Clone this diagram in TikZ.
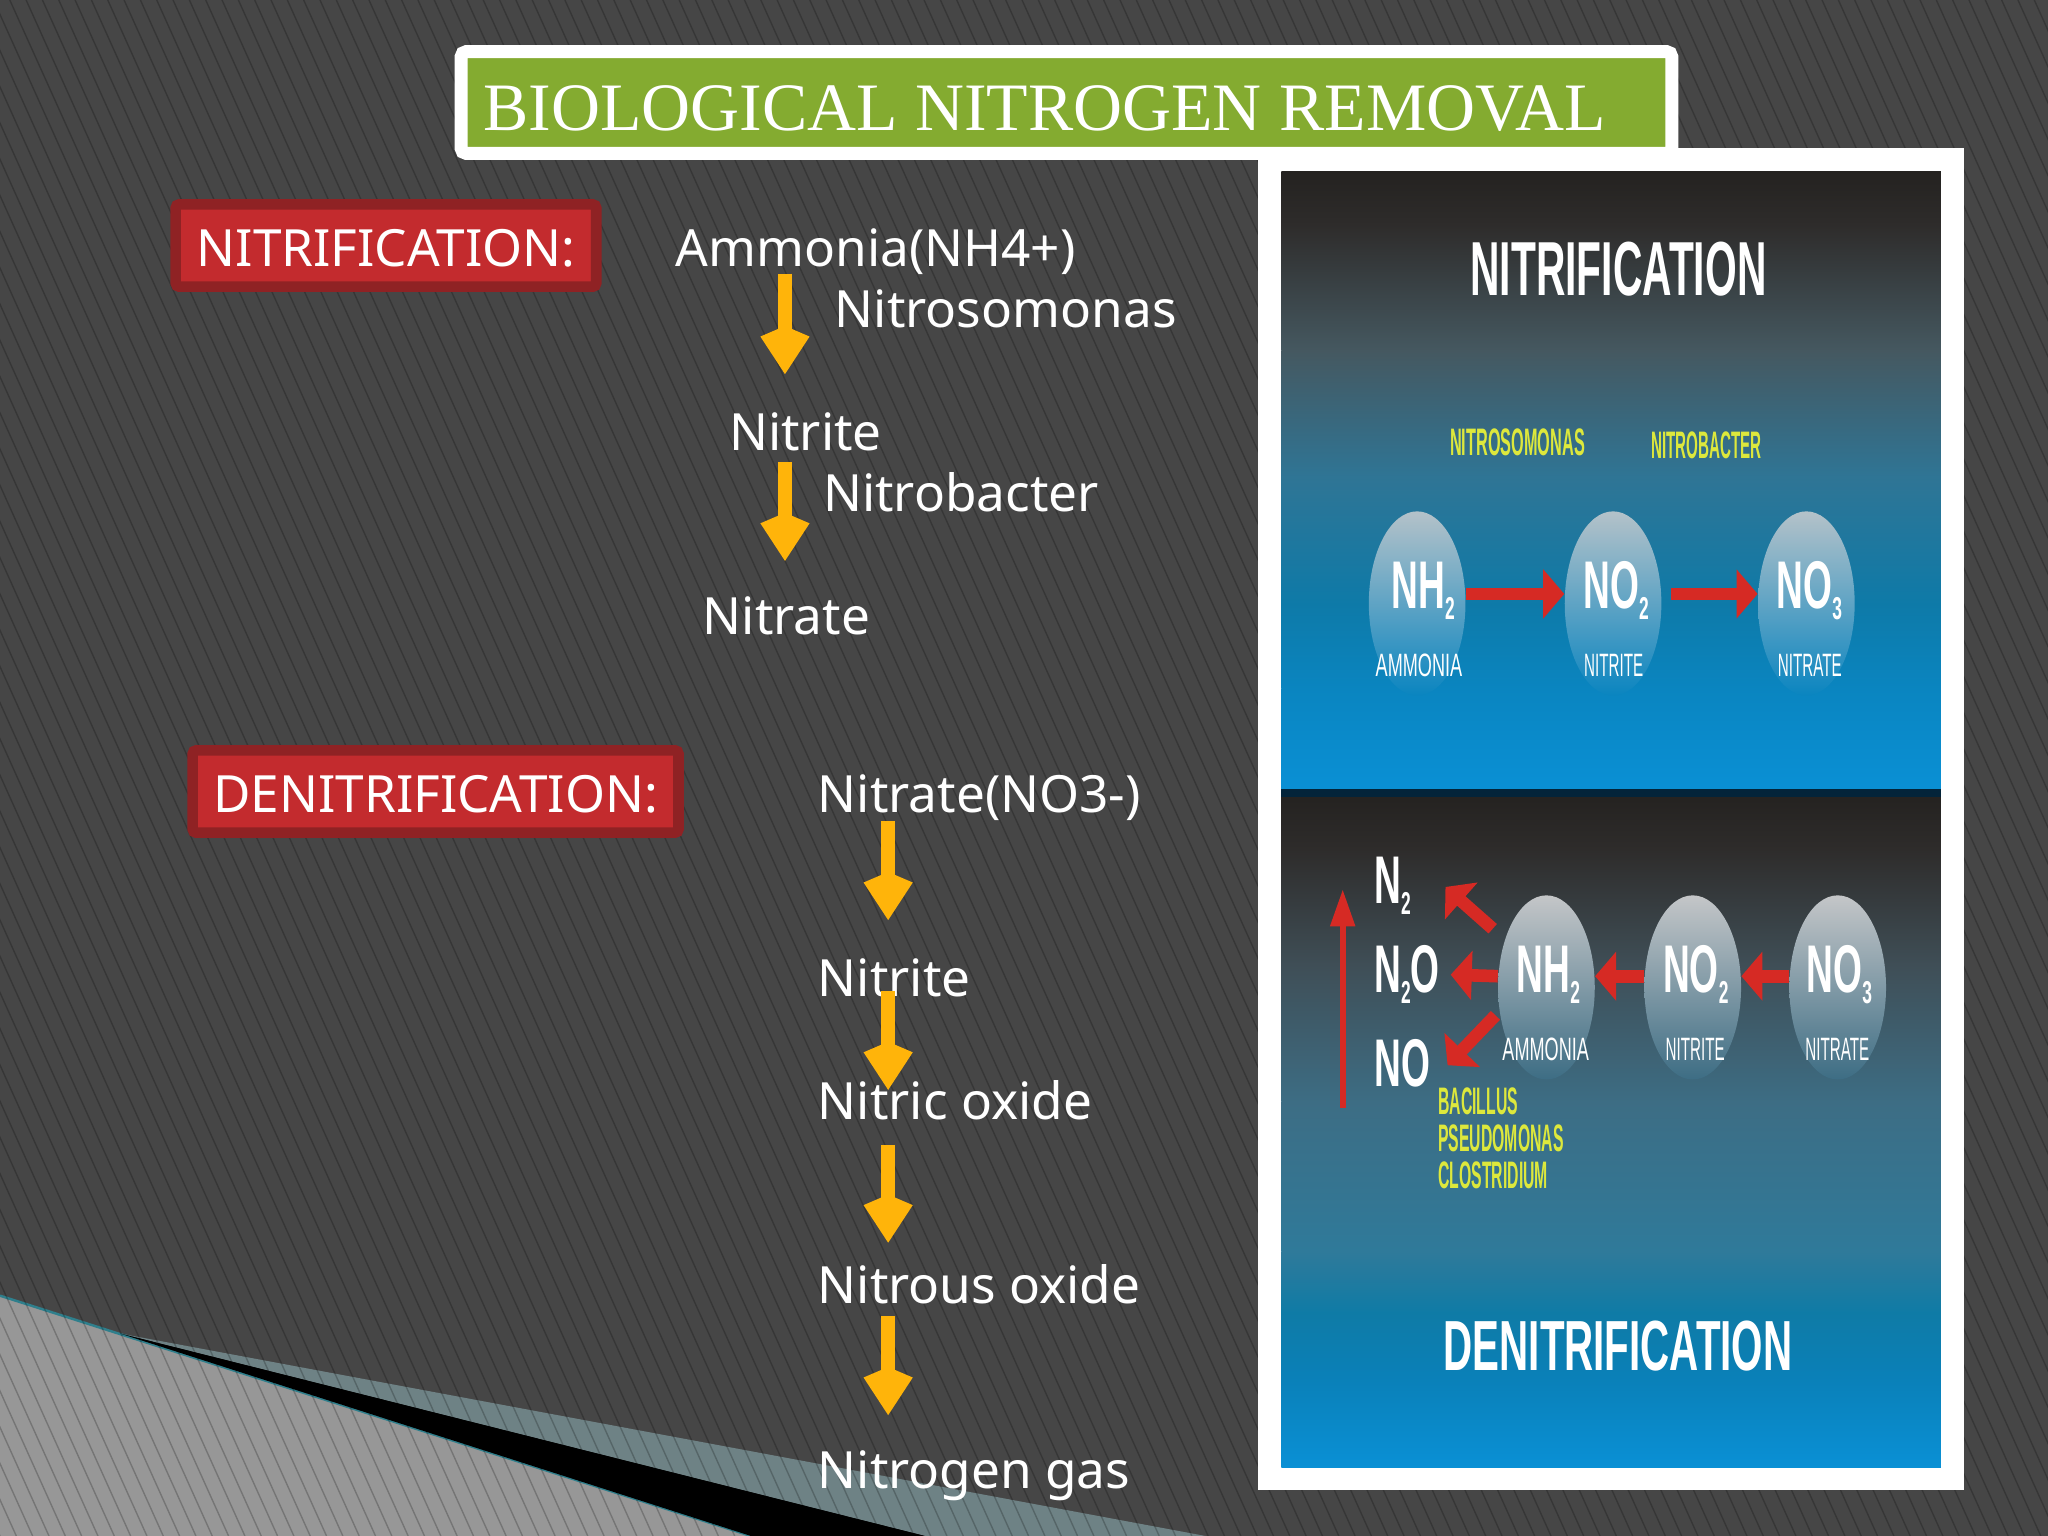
\documentclass[tikz,border=0pt]{standalone}
\usepackage{fontspec}
\setmainfont{Noto Sans}
\newfontfamily\titlefont{Liberation Serif}
\newfontfamily\panelfont{Liberation Sans}
\usetikzlibrary{arrows.meta,shapes.geometric,shadows}

\definecolor{slidebg}{HTML}{464646}
\definecolor{lightwedge}{HTML}{979797}
\definecolor{tealwedge}{HTML}{6E8285}
\definecolor{tealedge}{HTML}{2F7F8C}
\definecolor{titlegreen}{HTML}{84AB30}
\definecolor{tagred}{HTML}{C32B2E}
\definecolor{tagdark}{HTML}{8F2224}
\definecolor{arrowgold}{HTML}{FFB40A}
\definecolor{panelred}{HTML}{D62A24}
\definecolor{panelyellow}{HTML}{DDE83C}
\definecolor{panelline}{HTML}{03243A}
\definecolor{blobtopA}{HTML}{B4C2C9}
\definecolor{blobtopB}{HTML}{C4C6C8}
\definecolor{shA}{HTML}{242220}
\definecolor{shB}{HTML}{2E2C2B}
\definecolor{shC}{HTML}{455860}
\definecolor{shD}{HTML}{2F7595}
\definecolor{shE}{HTML}{0E7AA8}
\definecolor{shF}{HTML}{0A85C0}
\definecolor{shG}{HTML}{0A90D5}
\definecolor{shH}{HTML}{3F4E56}
\definecolor{shI}{HTML}{3D6D84}
\definecolor{shJ}{HTML}{2F7A9A}
\definecolor{shK}{HTML}{0F7BA6}
\definecolor{shL}{HTML}{0A80B8}

\newcommand{\un}{0.3716pt}
\newcommand{\chemsub}[1]{\raisebox{-3pt}{\fontsize{9}{9}\selectfont #1}}

\tikzset{
  slidetext/.style={anchor=base west,inner sep=0pt,xshift=-0.5pt,text=white,text height=27*\un,text depth=9*\un,font=\fontsize{14.6}{17}\selectfont},
  tagbox/.style={fill=tagred,draw=tagdark,line width=3pt,rounded corners=1pt,text=white,inner sep=0pt,text height=32*\un,text depth=0pt,font=\fontsize{14.6}{17}\selectfont},
  goldarrow/.style={draw=arrowgold,line width=4.1pt,-{Kite[length=13.7pt,width=14pt,inset=3pt]}},
  redarrow/.style={draw=panelred,line width=3.6pt,-{Triangle[length=6pt,width=13.7pt]}},
  blobA/.style={shape=ellipse,inner sep=0pt,minimum width=74*\un,minimum height=141*\un,top color=#1},
  formula/.style={anchor=base west,inner sep=0pt,text=white,xscale=.55,font=\panelfont\bfseries\fontsize{19.2}{22}\selectfont},
  species/.style={anchor=base west,inner sep=0pt,text=white,font=\panelfont\fontsize{9.2}{11}\selectfont},
  microbe/.style={anchor=base west,inner sep=0pt,text=panelyellow,font=\panelfont\bfseries\fontsize{10.9}{10.6}\selectfont},
  heading/.style={anchor=base west,inner sep=0pt,text=white,font=\panelfont\bfseries\fontsize{#1}{24}\selectfont}
}

\begin{document}
\begin{tikzpicture}[x=0.013061cm,y=-0.013061cm]
  \useasboundingbox (0,0) rectangle (1568,1176);
  \fill[slidebg] (0,0) rectangle (1568,1176);

  % corner wedges
  \fill[tealwedge] (92,1021) -- (923,1176) -- (575,1176) -- cycle;
  \fill[black] (92,1021) -- (708,1176) -- (575,1176) -- cycle;
  \fill[lightwedge] (0,992) -- (575,1176) -- (0,1176) -- cycle;
  \draw[tealedge,line width=0.7pt] (0,992) -- (575,1176);

  % stripes
  \begin{scope}
    \clip (0,0) rectangle (1568,1176);
    \foreach \x in {-530,-517.5,...,1568}
      \draw[black,opacity=.22,line width=0.4pt] (\x,0) -- (\x+530,1176);
  \end{scope}
  \fill[black] (92,1021) -- (708,1176) -- (575,1176) -- cycle;

  % title
  \node[fill=titlegreen,draw=white,line width=3.7pt,rounded corners=1.5pt,drop shadow={opacity=.35,shadow xshift=0pt,shadow yshift=-1.5pt},
    minimum width=927*\un,minimum height=78*\un,inner xsep=17*\un,inner ysep=0pt,text width=893*\un,align=left,
    text=white,text height=43*\un,text depth=0pt,font=\titlefont\fontsize{19.3}{22}\selectfont] (title) at (816.5,78.5) {\spaceskip=5pt BIOLOGICAL NITROGEN REMOVAL};

  % tags
  \node[tagbox,minimum width=322*\un,minimum height=63*\un] (nitrif) at (295.5,188) {NITRIFICATION:};
  \node[tagbox,minimum width=372*\un,minimum height=63*\un] (denitrif) at (333.5,606) {DENITRIFICATION:};

  % left column
  \node[slidetext] (ammonia) at (518,204) {Ammonia(NH4+)};
  \node[slidetext] (nitrosom) at (640,251) {Nitrosomonas};
  \node[slidetext] (nitriteA) at (559,345) {Nitrite};
  \node[slidetext] (nitrobac) at (631,392) {Nitrobacter};
  \node[slidetext] (nitrateA) at (539,486) {Nitrate};
  \node[slidetext] (nitrateB) at (627,622) {Nitrate(NO3-)};
  \node[slidetext] (nitriteB) at (627,763) {Nitrite};
  \node[slidetext] (nitric) at (627,857) {Nitric oxide};
  \node[slidetext] (nitrous) at (627,998) {Nitrous oxide};
  \node[slidetext] (nitrogen) at (627,1140) {Nitrogen gas};

  \coordinate (colA) at (601,0);
  \coordinate (colB) at (680,0);
  \foreach \a/\b/\col/\s/\e in {ammonia/nitriteA/colA/-4/31,nitriteA/nitrateA/colA/-1/29,
      nitrateB/nitriteB/colB/-3/31,nitriteB/nitric/colB/-14/-5,nitric/nitrous/colB/10/19,nitrous/nitrogen/colB/0/29}
    \draw[goldarrow,shorten <=\s*\un,shorten >=\e*\un] (\col|-\a.south) -- (\col|-\b.north);

  % picture panel
  \fill[white] (963,113) rectangle (1504,1141);
  \foreach \ya/\ca/\yb/\cb in {131/shA/172/shB,172/shB/268/shC,268/shC/365/shD,365/shD/462/shE,462/shE/527/shF,527/shF/605/shG,
      608/shA/650/shB,650/shB/738/shH,738/shH/843/shI,843/shI/958/shJ,958/shJ/1005/shK,1005/shK/1054/shL,1054/shL/1123/shG}
    \shade[top color=\ca,bottom color=\cb] (981,\ya) rectangle (1486,\yb+0.5);
  \fill[panelline] (981,604) rectangle (1486,610);

  % upper row
  \node[blobA=blobtopA,bottom color=shF] (nhA) at (1085,462) {};
  \node[blobA=blobtopA,bottom color=shF] (noA) at (1235,462) {};
  \node[blobA=blobtopA,bottom color=shF] (noC) at (1383,462) {};
  \draw[redarrow] (nhA.11) -- (noA.169);
  \draw[redarrow,shorten <=2.5pt] (noA.11) -- (noC.169);
  \node[heading=21.8,xscale=.532] (nitrifhead) at (1125.6,226.6) {NITRIFICATION};
  \node[microbe,xscale=.425] (somonas) at (1110,349) {NITROSOMONAS};
  \node[microbe,xscale=.396] (bacter) at (1264,351) {NITROBACTER};
  \node[formula] (nhAtext) at (1065,466) {NH\chemsub{2}};
  \node[formula] (noAtext) at (1212,466) {NO\chemsub{2}};
  \node[formula] (noCtext) at (1360,466) {NO\chemsub{3}};
  \node[species,xscale=.56] (ammoA) at (1053,518) {AMMONIA};
  \node[species,xscale=.47] (nitA) at (1212.6,518) {NITRITE};
  \node[species,xscale=.47] (natA) at (1361,518) {NITRATE};

  % lower row
  \node[blobA=blobtopB,bottom color=shI] (nhB) at (1184,756) {};
  \node[blobA=blobtopB,bottom color=shI] (noB) at (1296,756) {};
  \node[blobA=blobtopB,bottom color=shI] (noD) at (1407,756) {};
  \node[formula] (ntwo) at (1052,692) {N\chemsub{2}};
  \node[formula] (ntwoo) at (1052,760) {N\chemsub{2}O};
  \node[formula] (nomono) at (1052,832) {NO};
  \draw[redarrow] (noD.167) -- (noB.13);
  \draw[redarrow] (noB.167) -- (nhB.13);
  \draw[redarrow,shorten >=3pt] (nhB.167) -- (ntwoo.east);
  \draw[redarrow,shorten <=4.5pt,shorten >=13pt] (nhB.131) -- (ntwo.north east);
  \draw[redarrow,shorten <=1.5pt,shorten >=9pt] (nhB.207) -- (nomono.-30);
  \coordinate (riseA) at (1028,848);
  \coordinate (riseB) at (1028,681);
  \draw[draw=panelred,line width=1.6pt,-{Triangle[length=10.5pt,width=6.8pt]}] (riseA) -- (riseB);
  \node[formula] (nhBtext) at (1161,760) {NH\chemsub{2}};
  \node[formula] (noBtext) at (1273,760) {NO\chemsub{2}};
  \node[formula] (noDtext) at (1383,760) {NO\chemsub{3}};
  \node[species,xscale=.56] (ammoB) at (1150,812) {AMMONIA};
  \node[species,xscale=.47] (nitB) at (1275,812) {NITRITE};
  \node[species,xscale=.47] (natB) at (1382,812) {NITRATE};
  \node[microbe,xscale=.412,anchor=north west,align=left,text depth=0pt] (bacillus) at (1101,832) {BACILLUS\\PSEUDOMONAS\\CLOSTRIDIUM};
  \node[heading=20.2,xscale=.568] (denitrifhead) at (1105,1049) {DENITRIFICATION};
\end{tikzpicture}
\end{document}
